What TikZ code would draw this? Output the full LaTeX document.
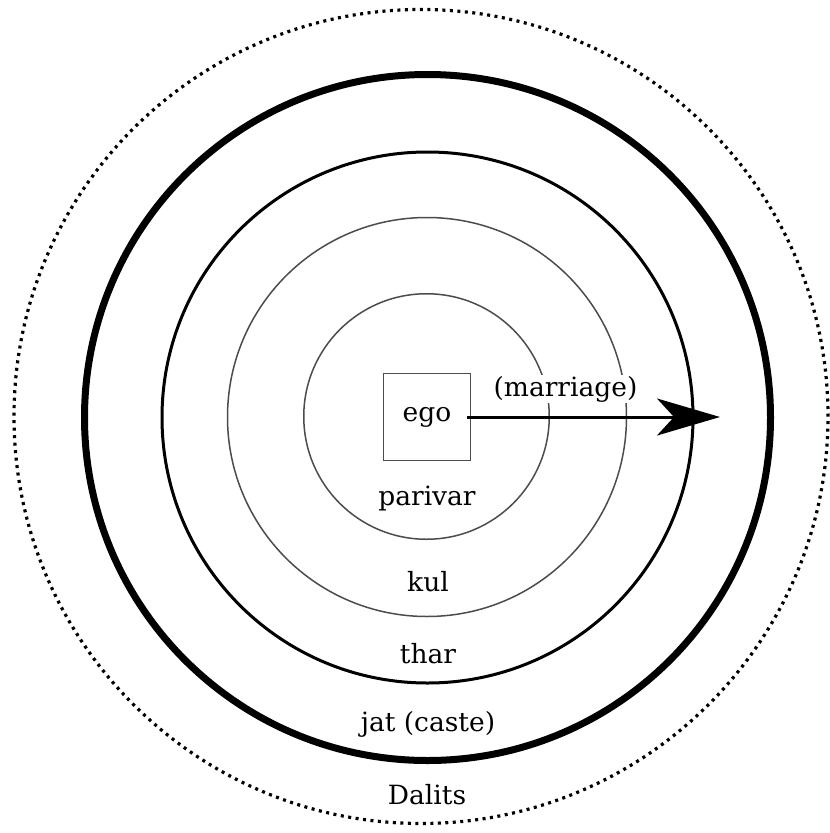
\documentclass[tikz,border=0pt]{standalone}
\usepackage{fontspec}
\setmainfont{DejaVu Serif}
\usetikzlibrary{arrows.meta}
\tikzset{
  ring/.style={draw, circle, inner sep=0pt, outer sep=0pt},
  lbl/.style={font=\fontsize{26.5}{31}\selectfont, inner sep=1pt},
}
\begin{document}
\begin{tikzpicture}[x=1pt,y=-1pt]
\useasboundingbox (0,0) rectangle (830,833);
\fill[white] (0,0) rectangle (830,833);
\node[ring, minimum size=814, line width=3.2pt, dash pattern=on 3pt off 4.5pt] (dal) at (421,416.5) {};
\node[ring, minimum size=686, line width=7pt] (jat) at (427.5,417.5) {};
\node[ring, minimum size=531, line width=3pt] (thar) at (427.5,417.5) {};
\node[ring, minimum size=399, line width=1.5pt, draw=black!70] (kul) at (427,417) {};
\node[ring, minimum size=245.5, line width=1.5pt, draw=black!70] (par) at (426.5,416.5) {};
\node[draw=black!70, line width=1.5pt, minimum size=87, inner sep=0pt, lbl] (ego) at (427,417) {ego};
\coordinate (tip) at (720,417);
\node[lbl, fill=white] (mar) at (565.5,389) {(marriage)};
\draw[line width=3pt, -{Stealth[length=63pt, width=37pt, inset=17pt]}] ([xshift=-4pt]ego.east) -- (tip);
\node[lbl] (lpar) at (427,498) {parivar};
\node[lbl] (lkul) at (428,582) {kul};
\node[lbl] (lthar) at (428,654) {thar};
\node[lbl] (ljat) at (428,724) {jat (caste)};
\node[lbl] (ldal) at (427,795) {Dalits};
\end{tikzpicture}
\end{document}
